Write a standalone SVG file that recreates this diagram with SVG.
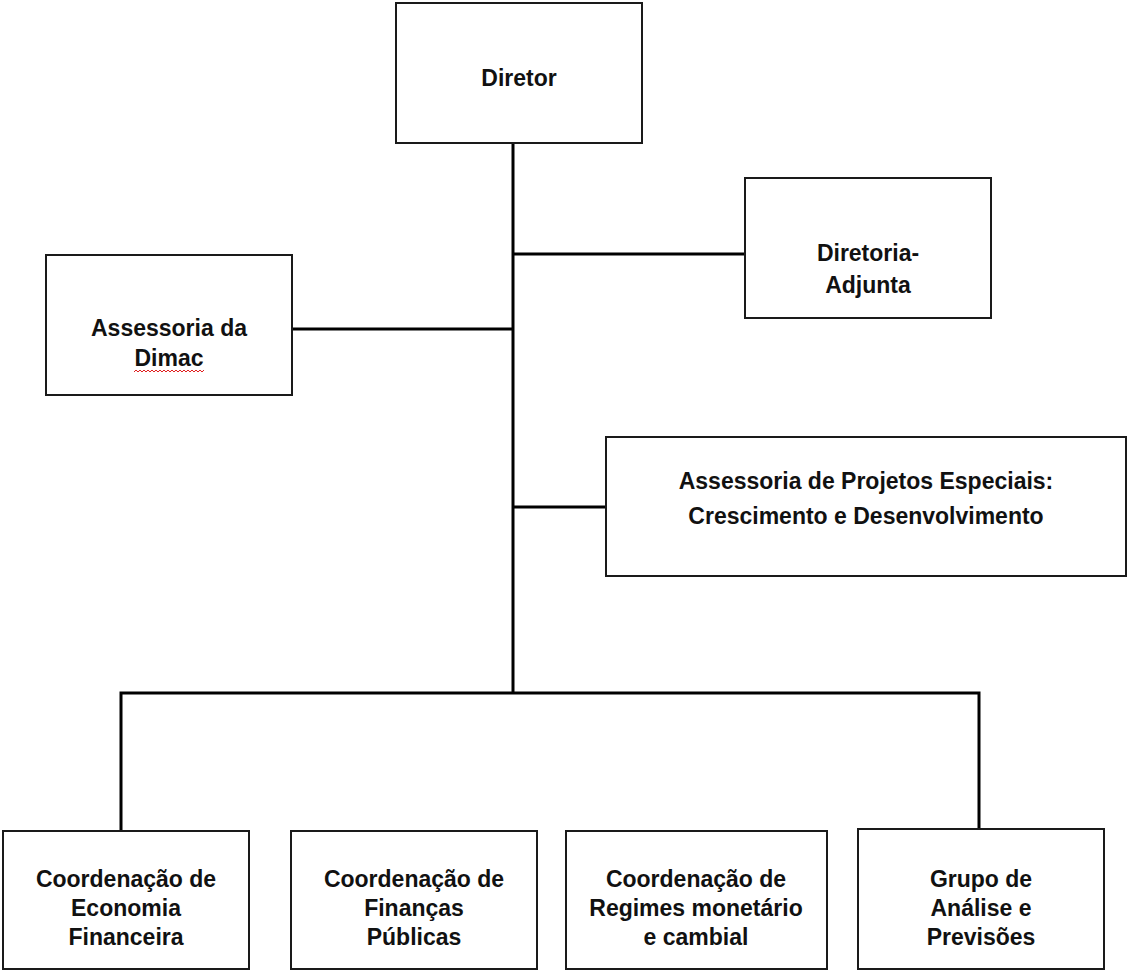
<svg xmlns="http://www.w3.org/2000/svg" width="1127" height="971" viewBox="0 0 1127 971">
<style>
.box{fill:#fff;stroke:#1a1a1a;stroke-width:2}
.t{font-family:"Liberation Sans",Arial,sans-serif;font-weight:bold;font-size:23px;fill:#111;text-anchor:middle}
.c{stroke:#000;stroke-width:3;fill:none}
</style>
<rect width="1127" height="971" fill="#fff"/>
<g id="connectors">
<line class="c" x1="513" y1="143" x2="513" y2="693"/>
<line class="c" x1="513" y1="254" x2="745" y2="254"/>
<line class="c" x1="292" y1="329" x2="513" y2="329"/>
<line class="c" x1="513" y1="507" x2="606" y2="507"/>
<polyline class="c" points="121,831 121,693 979,693 979,829"/>
</g>
<g id="diretor">
<rect class="box" x="396" y="3" width="246" height="140"/>
<text class="t" x="519" y="86">Diretor</text>
</g>
<g id="diretoria-adjunta">
<rect class="box" x="745" y="178" width="246" height="140"/>
<text class="t" x="868" y="261">Diretoria-</text>
<text class="t" x="868" y="293">Adjunta</text>
</g>
<g id="assessoria-dimac">
<rect class="box" x="46" y="255" width="246" height="140"/>
<text class="t" x="169" y="336">Assessoria da</text>
<text class="t" x="169" y="366">Dimac</text>
<path d="M134,372 l2,-2 2,2 2,-2 2,2 2,-2 2,2 2,-2 2,2 2,-2 2,2 2,-2 2,2 2,-2 2,2 2,-2 2,2 2,-2 2,2 2,-2 2,2 2,-2 2,2 2,-2 2,2 2,-2 2,2 2,-2 2,2 2,-2 2,2 2,-2 2,2 2,-2 2,2 2,-2" fill="none" stroke="#e02020" stroke-width="1"/>
</g>
<g id="assessoria-projetos">
<rect class="box" x="606" y="437" width="520" height="139"/>
<text class="t" x="866" y="489">Assessoria de Projetos Especiais:</text>
<text class="t" x="866" y="524">Crescimento e Desenvolvimento</text>
</g>
<g id="coord-economia">
<rect class="box" x="3" y="831" width="246" height="138"/>
<text class="t" x="126" y="887">Coordenação de</text>
<text class="t" x="126" y="916">Economia</text>
<text class="t" x="126" y="945">Financeira</text>
</g>
<g id="coord-financas">
<rect class="box" x="291" y="831" width="246" height="138"/>
<text class="t" x="414" y="887">Coordenação de</text>
<text class="t" x="414" y="916">Finanças</text>
<text class="t" x="414" y="945">Públicas</text>
</g>
<g id="coord-regimes">
<rect class="box" x="566" y="831" width="261" height="138"/>
<text class="t" x="696" y="887">Coordenação de</text>
<text class="t" x="696" y="916">Regimes monetário</text>
<text class="t" x="696" y="945">e cambial</text>
</g>
<g id="grupo-analise">
<rect class="box" x="858" y="829" width="246" height="140"/>
<text class="t" x="981" y="887">Grupo de</text>
<text class="t" x="981" y="916">Análise e</text>
<text class="t" x="981" y="945">Previsões</text>
</g>
</svg>
